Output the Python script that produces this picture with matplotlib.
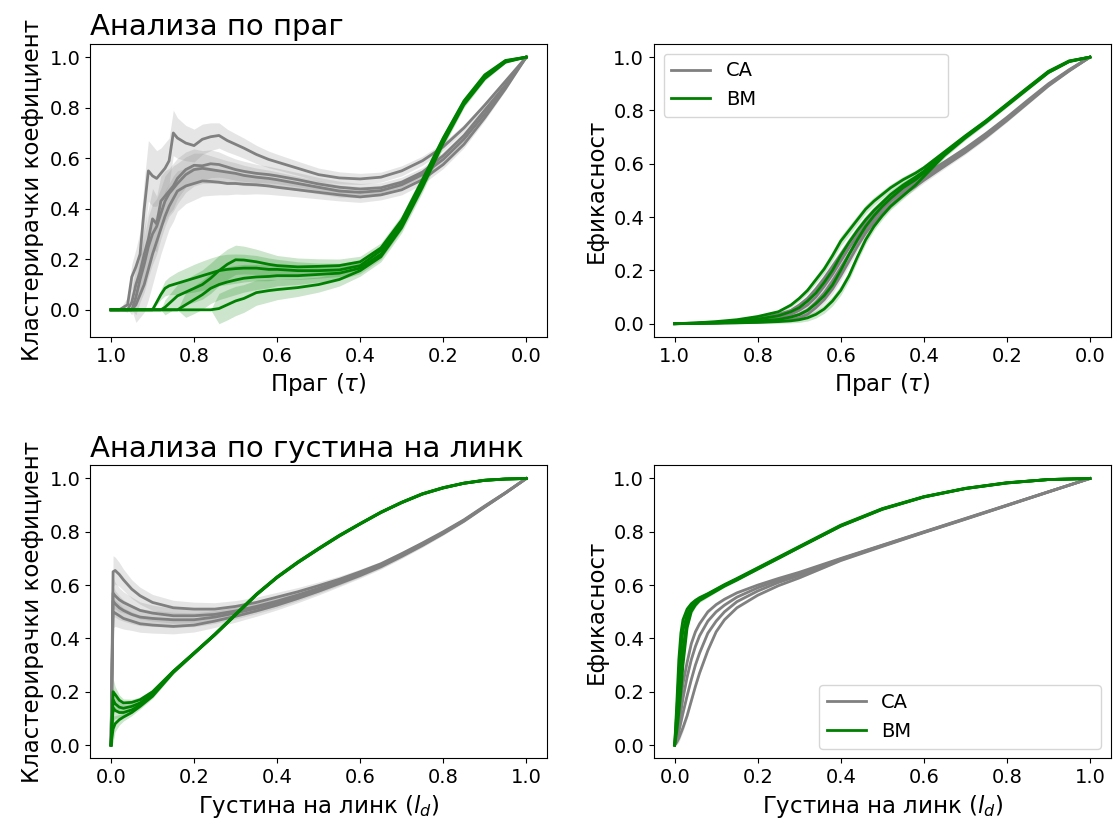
import matplotlib
matplotlib.use('Agg')
import matplotlib.pyplot as plt
import numpy as np

# ---- threshold analysis (top row), x = threshold tau, drawn from 1 down to 0
TAU_TL = [1.0, 0.98, 0.96, 0.95, 0.94, 0.93, 0.92, 0.91, 0.90, 0.89,
          0.88, 0.87, 0.86, 0.85, 0.84, 0.82, 0.80, 0.78, 0.76, 0.74,
          0.72, 0.70, 0.68, 0.65, 0.62, 0.60, 0.55, 0.50, 0.45, 0.40,
          0.35, 0.30, 0.25, 0.20, 0.15, 0.10, 0.05, 0.0]

CA_CC_TAU = [
    [0, 0, 0.02, 0.13, 0.17, 0.22, 0.40, 0.55, 0.53, 0.52,
     0.54, 0.56, 0.59, 0.70, 0.68, 0.66, 0.65, 0.675, 0.685, 0.69,
     0.67, 0.655, 0.64, 0.615, 0.595, 0.585, 0.56, 0.535, 0.522, 0.518,
     0.525, 0.55, 0.59, 0.645, 0.72, 0.81, 0.905, 1.0],
    [0, 0, 0, 0.03, 0.10, 0.15, 0.22, 0.28, 0.36, 0.34,
     0.43, 0.45, 0.47, 0.49, 0.52, 0.555, 0.572, 0.57, 0.578, 0.575,
     0.565, 0.555, 0.548, 0.54, 0.535, 0.53, 0.515, 0.498, 0.485, 0.478,
     0.483, 0.505, 0.545, 0.61, 0.69, 0.79, 0.89, 1.0],
    [0, 0, 0, 0, 0.05, 0.12, 0.18, 0.25, 0.30, 0.33,
     0.38, 0.43, 0.46, 0.48, 0.50, 0.535, 0.555, 0.56, 0.555, 0.55,
     0.545, 0.54, 0.532, 0.525, 0.52, 0.515, 0.50, 0.485, 0.47, 0.465,
     0.472, 0.495, 0.535, 0.595, 0.675, 0.775, 0.885, 1.0],
    [0, 0, 0, 0, 0.02, 0.06, 0.10, 0.16, 0.22, 0.27,
     0.32, 0.37, 0.41, 0.44, 0.47, 0.49, 0.50, 0.51, 0.508, 0.505,
     0.50, 0.50, 0.497, 0.495, 0.49, 0.485, 0.475, 0.465, 0.455, 0.447,
     0.455, 0.475, 0.515, 0.575, 0.655, 0.76, 0.875, 1.0],
]
CA_CC_TAU_SD = [0, 0, 0.03, 0.05, 0.07, 0.09, 0.11, 0.12, 0.12, 0.11,
                0.10, 0.10, 0.09, 0.09, 0.08, 0.07, 0.065, 0.06, 0.055, 0.05,
                0.045, 0.042, 0.04, 0.036, 0.033, 0.031, 0.028, 0.026, 0.024, 0.022,
                0.02, 0.02, 0.018, 0.016, 0.014, 0.011, 0.007, 0.0]

BM_CC_TAU = [
    [0, 0, 0, 0, 0, 0, 0, 0, 0, 0.03,
     0.06, 0.085, 0.095, 0.10, 0.105, 0.115, 0.125, 0.135, 0.145, 0.155,
     0.16, 0.163, 0.165, 0.165, 0.16, 0.16, 0.155, 0.155, 0.158, 0.175,
     0.235, 0.345, 0.505, 0.675, 0.822, 0.925, 0.985, 1.0],
    [0, 0, 0, 0, 0, 0, 0, 0, 0, 0,
     0, 0.01, 0.025, 0.04, 0.055, 0.07, 0.085, 0.10, 0.125, 0.155,
     0.18, 0.198, 0.197, 0.19, 0.18, 0.175, 0.17, 0.172, 0.175, 0.19,
     0.245, 0.355, 0.515, 0.68, 0.827, 0.93, 0.987, 1.0],
    [0, 0, 0, 0, 0, 0, 0, 0, 0, 0,
     0, 0, 0, 0, 0, 0.02, 0.04, 0.06, 0.085, 0.10,
     0.11, 0.118, 0.125, 0.13, 0.132, 0.135, 0.135, 0.14, 0.145, 0.165,
     0.22, 0.335, 0.495, 0.668, 0.818, 0.92, 0.983, 1.0],
    [0, 0, 0, 0, 0, 0, 0, 0, 0, 0,
     0, 0, 0, 0, 0, 0, 0, 0, 0, 0.005,
     0.02, 0.035, 0.045, 0.068, 0.076, 0.08, 0.088, 0.10, 0.12, 0.155,
     0.21, 0.325, 0.485, 0.66, 0.812, 0.915, 0.98, 1.0],
]
BM_CC_TAU_SD = [0, 0, 0, 0, 0, 0, 0, 0, 0, 0.01,
                0.02, 0.03, 0.035, 0.04, 0.045, 0.05, 0.055, 0.058, 0.06, 0.06,
                0.06, 0.058, 0.055, 0.05, 0.045, 0.04, 0.035, 0.03, 0.026, 0.022,
                0.02, 0.02, 0.02, 0.016, 0.012, 0.008, 0.004, 0]

TAU_TR = [1.0, 0.95, 0.9, 0.85, 0.8, 0.75, 0.72, 0.7, 0.68, 0.66,
          0.64, 0.62, 0.6, 0.58, 0.56, 0.54, 0.52, 0.5, 0.48, 0.45,
          0.42, 0.4, 0.35, 0.3, 0.25, 0.2, 0.15, 0.1, 0.05, 0.0]

CA_EF_TAU = [
    [0.0, 0.002, 0.005, 0.01, 0.02, 0.035, 0.05, 0.07, 0.095, 0.13,
     0.17, 0.215, 0.26, 0.305, 0.345, 0.385, 0.42, 0.45, 0.475, 0.51,
     0.54, 0.557, 0.607, 0.658, 0.714, 0.774, 0.838, 0.9, 0.953, 1.0],
    [0.0, 0.001, 0.004, 0.008, 0.013, 0.025, 0.035, 0.05, 0.07, 0.1,
     0.14, 0.185, 0.235, 0.285, 0.33, 0.37, 0.405, 0.44, 0.465, 0.5,
     0.53, 0.55, 0.601, 0.652, 0.709, 0.77, 0.834, 0.897, 0.951, 1.0],
    [0.0, 0.001, 0.003, 0.006, 0.009, 0.016, 0.025, 0.035, 0.05, 0.08,
     0.115, 0.16, 0.21, 0.26, 0.31, 0.355, 0.395, 0.43, 0.46, 0.495,
     0.525, 0.546, 0.598, 0.649, 0.706, 0.767, 0.831, 0.895, 0.95, 1.0],
    [0.0, 0.001, 0.002, 0.004, 0.006, 0.01, 0.015, 0.022, 0.035, 0.06,
     0.09, 0.13, 0.18, 0.235, 0.29, 0.34, 0.38, 0.415, 0.445, 0.485,
     0.515, 0.538, 0.591, 0.643, 0.7, 0.762, 0.827, 0.892, 0.948, 1.0],
]
BM_EF_TAU = [
    [0.0, 0.003, 0.008, 0.015, 0.027, 0.045, 0.07, 0.095, 0.125, 0.165,
     0.205, 0.255, 0.31, 0.35, 0.39, 0.43, 0.46, 0.485, 0.51, 0.54,
     0.565, 0.585, 0.645, 0.705, 0.762, 0.824, 0.886, 0.947, 0.986, 1.0],
    [0.0, 0.002, 0.005, 0.01, 0.017, 0.03, 0.045, 0.06, 0.085, 0.115,
     0.155, 0.2, 0.255, 0.305, 0.35, 0.39, 0.425, 0.455, 0.485, 0.52,
     0.55, 0.572, 0.64, 0.702, 0.76, 0.822, 0.884, 0.945, 0.985, 1.0],
    [0.0, 0.001, 0.003, 0.006, 0.01, 0.016, 0.025, 0.034, 0.05, 0.075,
     0.105, 0.145, 0.2, 0.26, 0.315, 0.365, 0.405, 0.44, 0.47, 0.51,
     0.54, 0.565, 0.636, 0.7, 0.758, 0.82, 0.882, 0.943, 0.984, 1.0],
    [0.0, 0.001, 0.002, 0.003, 0.005, 0.008, 0.011, 0.015, 0.022, 0.035,
     0.055, 0.085, 0.125, 0.18, 0.25, 0.315, 0.365, 0.405, 0.44, 0.48,
     0.52, 0.552, 0.632, 0.697, 0.756, 0.818, 0.88, 0.942, 0.983, 1.0],
]
EF_TAU_SD = [0, 0, 0.001, 0.002, 0.004, 0.006, 0.008, 0.01, 0.012, 0.014,
             0.016, 0.018, 0.018, 0.018, 0.017, 0.016, 0.015, 0.014, 0.013, 0.012,
             0.011, 0.01, 0.009, 0.008, 0.007, 0.006, 0.005, 0.004, 0.002, 0]

# ---- link density analysis (bottom row)
LD_BL = [0.0, 0.005, 0.01, 0.02, 0.03, 0.05, 0.07, 0.1, 0.15, 0.2,
         0.25, 0.3, 0.35, 0.4, 0.45, 0.5, 0.55, 0.6, 0.65, 0.7,
         0.75, 0.8, 0.85, 0.9, 0.95, 1.0]

CA_CC_LD = [
    [0, 0.65, 0.655, 0.64, 0.62, 0.585, 0.56, 0.535, 0.515, 0.51,
     0.51, 0.52, 0.535, 0.555, 0.575, 0.598, 0.622, 0.65, 0.68, 0.718,
     0.758, 0.8, 0.845, 0.897, 0.947, 1.0],
    [0, 0.57, 0.56, 0.545, 0.535, 0.52, 0.505, 0.495, 0.485, 0.485,
     0.49, 0.503, 0.52, 0.54, 0.563, 0.588, 0.614, 0.643, 0.675, 0.713,
     0.754, 0.797, 0.843, 0.895, 0.946, 1.0],
    [0, 0.54, 0.53, 0.515, 0.505, 0.49, 0.48, 0.475, 0.47, 0.47,
     0.48, 0.495, 0.513, 0.533, 0.557, 0.583, 0.61, 0.64, 0.672, 0.71,
     0.751, 0.795, 0.841, 0.894, 0.946, 1.0],
    [0, 0.5, 0.495, 0.485, 0.475, 0.465, 0.455, 0.45, 0.445, 0.45,
     0.465, 0.483, 0.503, 0.525, 0.55, 0.577, 0.606, 0.636, 0.669, 0.708,
     0.749, 0.793, 0.84, 0.893, 0.945, 1.0],
]
CA_CC_LD_SD = [0, 0.06, 0.05, 0.045, 0.04, 0.035, 0.032, 0.03, 0.028, 0.026,
               0.024, 0.022, 0.02, 0.018, 0.016, 0.014, 0.012, 0.01, 0.009, 0.008,
               0.007, 0.006, 0.005, 0.004, 0.002, 0]

BM_CC_LD = [
    [0, 0.2, 0.19, 0.168, 0.158, 0.16, 0.17, 0.2, 0.277, 0.346,
     0.416, 0.491, 0.566, 0.631, 0.687, 0.738, 0.787, 0.831, 0.874, 0.911,
     0.943, 0.966, 0.983, 0.994, 0.998, 1.0],
    [0, 0.17, 0.155, 0.142, 0.138, 0.145, 0.158, 0.193, 0.276, 0.345,
     0.415, 0.49, 0.565, 0.63, 0.686, 0.737, 0.786, 0.83, 0.873, 0.91,
     0.942, 0.965, 0.982, 0.993, 0.998, 1.0],
    [0, 0.14, 0.13, 0.122, 0.122, 0.132, 0.15, 0.188, 0.274, 0.344,
     0.414, 0.489, 0.564, 0.629, 0.685, 0.736, 0.785, 0.83, 0.873, 0.91,
     0.942, 0.965, 0.982, 0.993, 0.998, 1.0],
    [0, 0.06, 0.08, 0.095, 0.105, 0.122, 0.145, 0.183, 0.272, 0.343,
     0.413, 0.488, 0.563, 0.628, 0.684, 0.735, 0.784, 0.829, 0.872, 0.909,
     0.941, 0.964, 0.982, 0.993, 0.998, 1.0],
]
BM_CC_LD_SD = [0, 0.05, 0.03, 0.02, 0.015, 0.012, 0.01, 0.008, 0.006, 0.005,
               0.004, 0.004, 0.004, 0.003, 0.003, 0.003, 0.002, 0.002, 0.002, 0.002,
               0.001, 0.001, 0.001, 0.001, 0.0, 0]

LD_BR = [0.0, 0.005, 0.01, 0.015, 0.02, 0.03, 0.04, 0.05, 0.06, 0.08,
         0.1, 0.12, 0.15, 0.2, 0.25, 0.3, 0.4, 0.5, 0.6, 0.7,
         0.8, 0.9, 1.0]

CA_EF_LD = [
    [0, 0.04, 0.10, 0.17, 0.23, 0.31, 0.38, 0.425, 0.455, 0.5,
     0.527, 0.547, 0.571, 0.60, 0.625, 0.648, 0.70, 0.75, 0.80, 0.85,
     0.90, 0.95, 1.0],
    [0, 0.03, 0.075, 0.125, 0.175, 0.255, 0.32, 0.37, 0.41, 0.465,
     0.5, 0.525, 0.555, 0.59, 0.618, 0.643, 0.698, 0.749, 0.799, 0.849,
     0.899, 0.95, 1.0],
    [0, 0.02, 0.05, 0.085, 0.12, 0.185, 0.245, 0.30, 0.345, 0.42,
     0.465, 0.5, 0.538, 0.578, 0.61, 0.636, 0.695, 0.747, 0.798, 0.848,
     0.899, 0.95, 1.0],
    [0, 0.01, 0.025, 0.045, 0.065, 0.11, 0.165, 0.22, 0.27, 0.355,
     0.425, 0.47, 0.515, 0.562, 0.598, 0.627, 0.692, 0.745, 0.797, 0.847,
     0.898, 0.949, 1.0],
]
BM_EF_LD = [
    [0, 0.15, 0.32, 0.42, 0.47, 0.51, 0.53, 0.543, 0.553, 0.568,
     0.585, 0.602, 0.625, 0.665, 0.705, 0.745, 0.825, 0.887, 0.932, 0.963,
     0.984, 0.996, 1.0],
    [0, 0.12, 0.26, 0.36, 0.43, 0.49, 0.52, 0.537, 0.549, 0.566,
     0.583, 0.6, 0.623, 0.663, 0.703, 0.743, 0.823, 0.886, 0.931, 0.963,
     0.984, 0.996, 1.0],
    [0, 0.08, 0.18, 0.28, 0.36, 0.47, 0.51, 0.531, 0.545, 0.563,
     0.58, 0.598, 0.621, 0.661, 0.702, 0.742, 0.822, 0.885, 0.931, 0.962,
     0.983, 0.996, 1.0],
    [0, 0.05, 0.12, 0.20, 0.30, 0.44, 0.50, 0.525, 0.542, 0.56,
     0.578, 0.596, 0.619, 0.66, 0.7, 0.741, 0.821, 0.884, 0.93, 0.962,
     0.983, 0.996, 1.0],
]
EF_LD_SD = [0, 0.01, 0.015, 0.015, 0.015, 0.012, 0.01, 0.008, 0.007, 0.006,
            0.005, 0.005, 0.004, 0.004, 0.003, 0.003, 0.002, 0.002, 0.002, 0.001,
            0.001, 0.001, 0]

GREY = 'grey'
GREEN = 'green'


def draw(ax, x, curves, sd, color, label):
    x = np.array(x)
    for y in curves:
        y = np.array(y)
        s = np.where(y > 0, np.array(sd), 0)
        ax.fill_between(x, y - s, y + s, color=color, alpha=0.2, lw=0)
    for i, y in enumerate(curves):
        ax.plot(x, y, color=color, lw=2.0, label=label if i == 0 else None)


plt.rcParams['font.family'] = ['DejaVu Sans']
plt.rcParams['font.size'] = 14

fig, axs = plt.subplots(2, 2, figsize=(11.14, 8.27), dpi=100)
fig.subplots_adjust(left=0.081, right=0.997, top=0.947, bottom=0.083,
                    wspace=0.234, hspace=0.437)

ax = axs[0, 0]
draw(ax, TAU_TL, CA_CC_TAU, CA_CC_TAU_SD, GREY, 'CA')
draw(ax, TAU_TL, BM_CC_TAU, BM_CC_TAU_SD, GREEN, 'BM')
ax.set_title('Анализа по праг', loc='left', fontsize=21)
ax.set_xlabel(r'Праг ($\tau$)', fontsize=16.5)
ax.set_ylabel('Кластерирачки коефициент', fontsize=16.5)

ax = axs[0, 1]
draw(ax, TAU_TR, CA_EF_TAU, EF_TAU_SD, GREY, 'CA')
draw(ax, TAU_TR, BM_EF_TAU, EF_TAU_SD, GREEN, 'BM')
ax.set_xlabel(r'Праг ($\tau$)', fontsize=16.5)
ax.set_ylabel('Ефикасност', fontsize=16.5)
ax.legend(loc='upper left', bbox_to_anchor=(0.0, 0.0, 0.665, 1.0), mode='expand')

ax = axs[1, 0]
draw(ax, LD_BL, CA_CC_LD, CA_CC_LD_SD, GREY, 'CA')
draw(ax, LD_BL, BM_CC_LD, BM_CC_LD_SD, GREEN, 'BM')
ax.set_title('Анализа по густина на линк', loc='left', fontsize=21)
ax.set_xlabel(r'Густина на линк ($l_d$)', fontsize=16.5)
ax.set_ylabel('Кластерирачки коефициент', fontsize=16.5)

ax = axs[1, 1]
draw(ax, LD_BR, CA_EF_LD, EF_LD_SD, GREY, 'CA')
draw(ax, LD_BR, BM_EF_LD, EF_LD_SD, GREEN, 'BM')
ax.set_xlabel(r'Густина на линк ($l_d$)', fontsize=16.5)
ax.set_ylabel('Ефикасност', fontsize=16.5)
ax.legend(loc='lower right', bbox_to_anchor=(0.34, 0.0, 0.66, 1.0), mode='expand')

for a in axs.flat:
    a.set_yticks([0.0, 0.2, 0.4, 0.6, 0.8, 1.0])
    a.set_xticks([0.0, 0.2, 0.4, 0.6, 0.8, 1.0])
axs[0, 0].invert_xaxis()
axs[0, 1].invert_xaxis()

fig.savefig('out.png', dpi=100)
